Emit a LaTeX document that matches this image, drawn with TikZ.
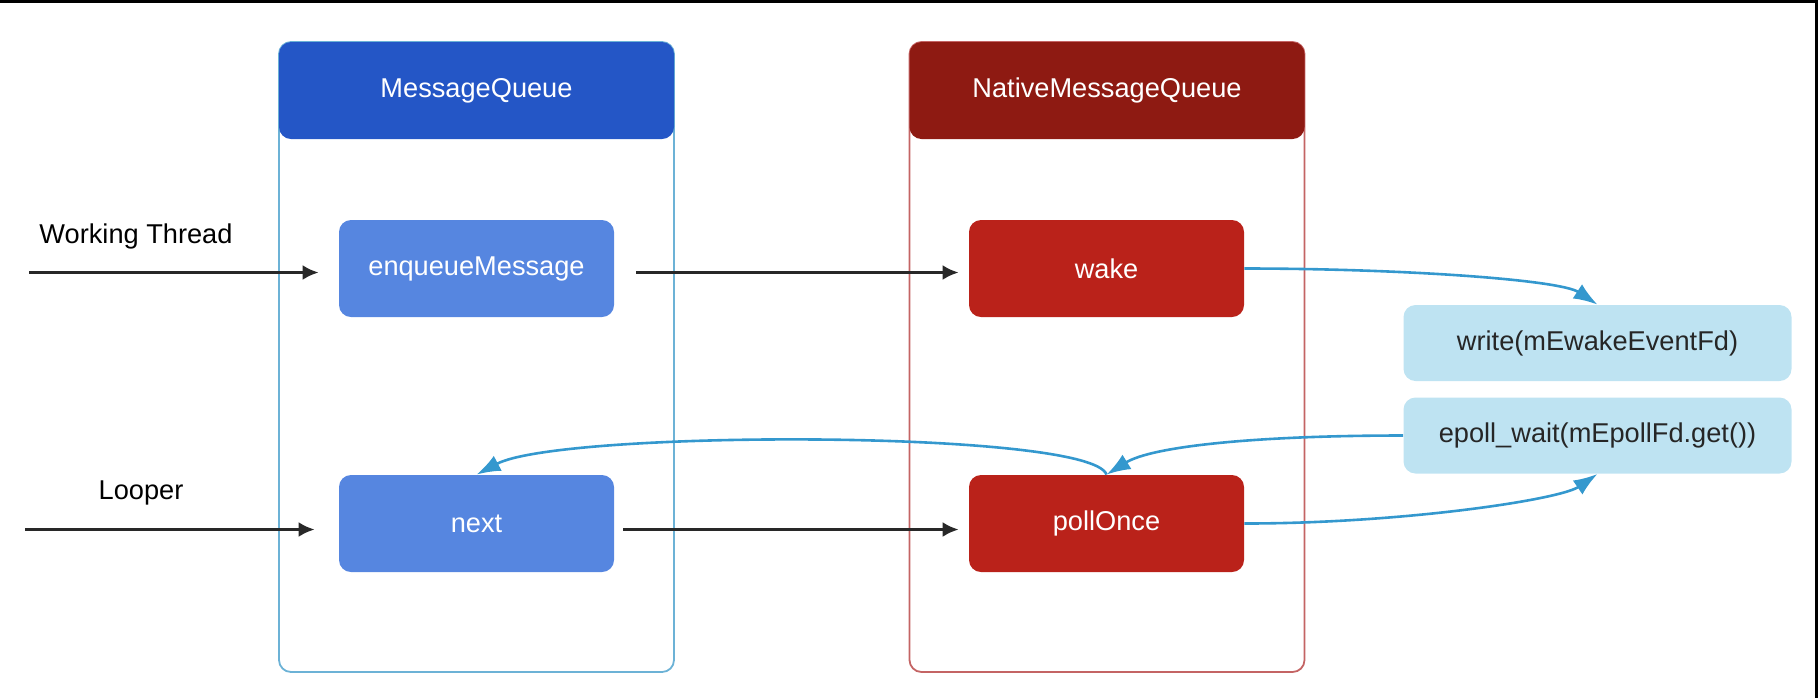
\documentclass[tikz,border=0pt]{standalone}
\usepackage{fontspec}
\setmainfont{Liberation Sans}
\usetikzlibrary{arrows.meta}

\definecolor{mqdark}{RGB}{36,86,198}
\definecolor{mqlight}{RGB}{86,134,224}
\definecolor{mqline}{RGB}{108,178,214}
\definecolor{nmqdark}{RGB}{142,26,18}
\definecolor{nmqlight}{RGB}{186,34,26}
\definecolor{nmqline}{RGB}{196,100,100}
\definecolor{sysfill}{RGB}{190,227,242}
\definecolor{flowblue}{RGB}{52,152,206}
\definecolor{calldark}{RGB}{40,40,40}

\begin{document}
\begin{tikzpicture}[
      x=0.5pt, y=-0.5pt,
      every node/.style={font=\fontsize{13.6}{16}\selectfont},
      lane/.style={draw, line width=0.9pt, rounded corners=6pt, minimum width=197.5pt, minimum height=315pt, inner sep=0pt},
      lanehead/.style={rounded corners=6pt, minimum width=197.5pt, minimum height=48.5pt, text=white, inner sep=0pt},
      stepbox/.style={rounded corners=6pt, minimum width=137.5pt, minimum height=48.5pt, text=white, inner sep=0pt},
      sysbox/.style={fill=sysfill, rounded corners=6pt, minimum width=194pt, minimum height=38pt, text=black!85, inner sep=0pt},
      call/.style={draw=calldark, line width=1.4pt, -{Latex[length=8pt,width=7.5pt]}},
      flow/.style={draw=flowblue, line width=1.3pt, -{Latex[length=12pt,width=8.5pt]}}
    ]
      \useasboundingbox (0,0) rectangle (1818,698);
      \fill[black] (0,0) rectangle (1818,3);
      \fill[black] (1815,0) rectangle (1818,698);

      % the two lanes
      \node[lane, draw=mqline] (mqlane) at (476.5,357) {};
      \node[lane, draw=nmqline] (nmqlane) at (1107,357) {};
      \node[lanehead, fill=mqdark] (mqhead) at (476.5,90.5) {MessageQueue};
      \node[lanehead, fill=nmqdark] (nmqhead) at (1107,90.5) {NativeMessageQueue};

      \node[stepbox, fill=mqlight] (enq) at (476.5,268.5) {enqueueMessage};
      \node[stepbox, fill=mqlight] (nxt) at (476.5,523.5) {next};
      \node[stepbox, fill=nmqlight] (wake) at (1106.5,268.5) {wake};
      \node[stepbox, fill=nmqlight] (poll) at (1106.5,523.5) {pollOnce};

      \node[sysbox] (write) at (1597.5,343) {write(mEwakeEventFd)};
      \node[sysbox] (epoll) at (1597.5,435.5) {epoll\_wait(mEpollFd.get())};

      \node (wtlabel) at (136,236) {Working Thread};
      \node (lplabel) at (141,493) {Looper};
      \coordinate (wtin) at (29,272.5);
      \coordinate (lpin) at (25,529.5);

      % straight calls
      \draw[call, shorten >=10pt] (wtin) -- ([yshift=-2pt]enq.west);
      \draw[call, shorten >=12pt] (lpin) -- ([yshift=-3pt]nxt.west);
      \draw[call, shorten <=11pt, shorten >=5pt] ([yshift=-2pt]enq.east) -- ([yshift=-2pt]wake.west);
      \draw[call, shorten <=4.5pt, shorten >=5pt] ([yshift=-3pt]nxt.east) -- ([yshift=-3pt]poll.west);

      % native side
      \draw[flow] (wake.east) .. controls +(156,0) and +(-38,-25) .. (write.north);
      \draw[flow] (poll.east) .. controls +(156,0) and +(-38,26) .. (epoll.south);
      \draw[flow] (epoll.west) .. controls +(-150,0) and +(45,-28) .. (poll.north);
      \draw[flow] (poll.north) .. controls +(-15,-45) and +(85,-45) .. (nxt.north);
    \end{tikzpicture}
\end{document}
